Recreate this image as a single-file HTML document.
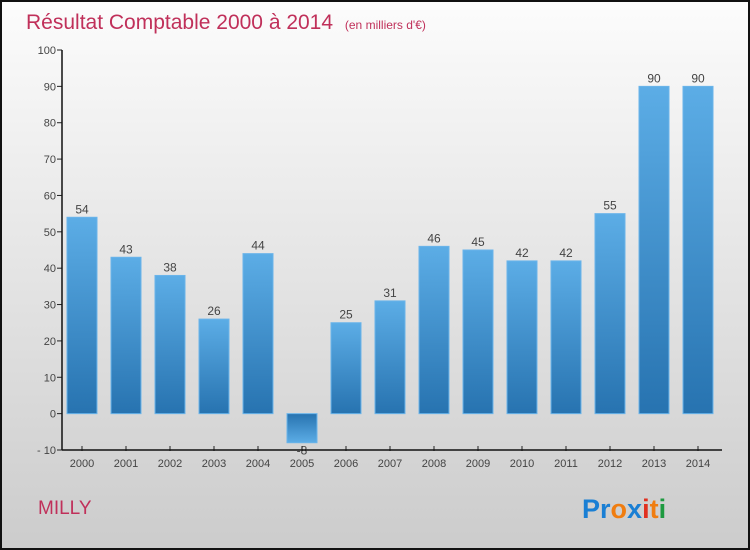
<!DOCTYPE html>
<html><head><meta charset="utf-8"><style>
html,body{margin:0;padding:0;}
body{width:750px;height:550px;overflow:hidden;font-family:"Liberation Sans","DejaVu Sans",sans-serif;}
#wrap{position:absolute;left:0;top:0;width:746px;height:546px;border:2px solid #111;background:linear-gradient(#fcfcfc,#cccccc);}
</style></head><body>
<div id="wrap">
<svg id="chart" width="746" height="546" style="position:absolute;left:0;top:0">
<defs>
<linearGradient id="gpos" x1="0" y1="0" x2="0" y2="1"><stop offset="0" stop-color="#5cade6"/><stop offset="1" stop-color="#2773b0"/></linearGradient>
<linearGradient id="gneg" x1="0" y1="0" x2="0" y2="1"><stop offset="0" stop-color="#2773b0"/><stop offset="1" stop-color="#5cade6"/></linearGradient>
</defs>
<text x="24" y="27" font-size="21" fill="#c0305a">Résultat Comptable 2000 à 2014 <tspan font-size="12" dx="6">(en milliers d'€)</tspan></text>
<text x="36" y="512" font-size="19" fill="#c0305a">MILLY</text>
<text x="580" y="516" font-size="27" font-weight="bold"><tspan fill="#1a7fd4">Pr</tspan><tspan fill="#f07d10">o</tspan><tspan fill="#1a7fd4">x</tspan><tspan fill="#e03020">i</tspan><tspan fill="#f07d10">t</tspan><tspan fill="#1e9a40">i</tspan></text>
<g id="plot"></g>
</svg>
</div>
<script>
const years=["2000","2001","2002","2003","2004","2005","2006","2007","2008","2009","2010","2011","2012","2013","2014"];
const values=[54,43,38,26,44,-8,25,31,46,45,42,42,55,90,90];
const yTicks=[-10,0,10,20,30,40,50,60,70,80,90,100];
const NS="http://www.w3.org/2000/svg";
const g=document.getElementById('plot');
const yMin=-10,yMax=100,pTop=48,pBot=448;
function y(v){return pBot-(v-yMin)/(yMax-yMin)*(pBot-pTop);}
function x(i){return 80+i*44;}
function mk(t,a){const e=document.createElementNS(NS,t);for(const k in a)e.setAttribute(k,a[k]);g.appendChild(e);return e;}
yTicks.forEach(t=>{
 const l=mk('line',{x1:55,x2:60,y1:y(t),y2:y(t),stroke:'#222'});
 
 
 const tx=mk('text',{x:54,y:y(t)+4,'text-anchor':'end','font-size':11,fill:'#444'});
 tx.textContent=t===-10?'- 10':t;
 
 
});
values.forEach((v,i)=>{
 const y0=y(0),yv=y(v);
 const r=mk('rect',{x:x(i)-15,y:Math.min(y0,yv),width:30,height:Math.abs(y0-yv),fill:v>=0?'url(#gpos)':'url(#gneg)',stroke:'#6ab4ea','stroke-width':1});
 
 
 const lb=mk('text',{x:x(i),y:v>=0?yv-4:yv+12,'text-anchor':'middle','font-size':12,fill:'#444'});
 lb.textContent=v;
 
 
 const tk=mk('line',{x1:x(i),x2:x(i),y1:pBot-4,y2:pBot+1,stroke:'#222'});
 
 
 const xl=mk('text',{x:x(i),y:pBot+17,'text-anchor':'middle','font-size':11,fill:'#444'});
 xl.textContent=years[i];
 
 
});
const ya=mk('line',{x1:60,x2:60,y1:pTop,y2:pBot,stroke:'#111','stroke-width':1.5});


const xa=mk('line',{x1:60,x2:720,y1:pBot,y2:pBot,stroke:'#111','stroke-width':1.5});


</script>
</body></html>
